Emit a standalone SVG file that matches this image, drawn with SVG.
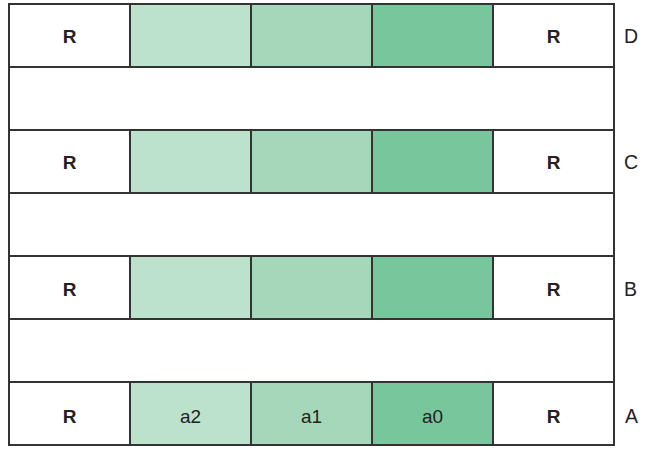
<svg xmlns="http://www.w3.org/2000/svg" width="654" height="469" viewBox="0 0 654 469">
<style>
.c{stroke:#333;stroke-width:2}
.w{fill:#fff}
.g2{fill:#bde2cc}
.g1{fill:#a5d8bb}
.g0{fill:#78c79c}
.r{font-family:"Liberation Sans",Arial,sans-serif;font-size:19px;font-weight:bold;fill:#222;text-anchor:middle}
.t{font-family:"Liberation Sans",Arial,sans-serif;font-size:19px;fill:#222;text-anchor:middle}
.l{font-family:"Liberation Sans",Arial,sans-serif;font-size:19.5px;fill:#222}
</style>
<rect width="654" height="469" fill="#fff"/>
<g id="rowD">
<rect class="c w" x="9" y="4" width="121" height="63"/>
<rect class="c g2" x="130" y="4" width="121" height="63"/>
<rect class="c g1" x="251" y="4" width="121" height="63"/>
<rect class="c g0" x="372" y="4" width="121" height="63"/>
<rect class="c w" x="493" y="4" width="121" height="63"/>
<text class="r" x="69.5" y="42.5">R</text>
<text class="r" x="553.5" y="42.5">R</text>
<text class="l" x="624" y="42.5">D</text>
</g>
<g id="gapDC"><rect class="c w" x="9" y="67" width="605" height="63"/></g>
<g id="rowC">
<rect class="c w" x="9" y="130" width="121" height="63"/>
<rect class="c g2" x="130" y="130" width="121" height="63"/>
<rect class="c g1" x="251" y="130" width="121" height="63"/>
<rect class="c g0" x="372" y="130" width="121" height="63"/>
<rect class="c w" x="493" y="130" width="121" height="63"/>
<text class="r" x="69.5" y="169">R</text>
<text class="r" x="553.5" y="169">R</text>
<text class="l" x="624" y="169">C</text>
</g>
<g id="gapCB"><rect class="c w" x="9" y="193" width="605" height="63"/></g>
<g id="rowB">
<rect class="c w" x="9" y="256" width="121" height="63"/>
<rect class="c g2" x="130" y="256" width="121" height="63"/>
<rect class="c g1" x="251" y="256" width="121" height="63"/>
<rect class="c g0" x="372" y="256" width="121" height="63"/>
<rect class="c w" x="493" y="256" width="121" height="63"/>
<text class="r" x="69.5" y="295.5">R</text>
<text class="r" x="553.5" y="295.5">R</text>
<text class="l" x="624" y="295.5">B</text>
</g>
<g id="gapBA"><rect class="c w" x="9" y="319" width="605" height="63"/></g>
<g id="rowA">
<rect class="c w" x="9" y="382" width="121" height="63"/>
<rect class="c g2" x="130" y="382" width="121" height="63"/>
<rect class="c g1" x="251" y="382" width="121" height="63"/>
<rect class="c g0" x="372" y="382" width="121" height="63"/>
<rect class="c w" x="493" y="382" width="121" height="63"/>
<text class="r" x="69.5" y="422.5">R</text>
<text class="t" x="190.5" y="422.5">a2</text>
<text class="t" x="311.5" y="422.5">a1</text>
<text class="t" x="432.5" y="422.5">a0</text>
<text class="r" x="553.5" y="422.5">R</text>
<text class="l" x="625" y="422.5">A</text>
</g>
<g id="connectors"></g>
</svg>
